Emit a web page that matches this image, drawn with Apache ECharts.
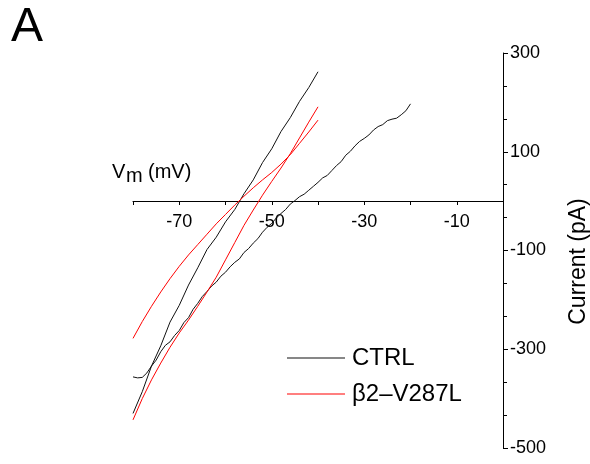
<!DOCTYPE html>
<html>
<head>
<meta charset="utf-8">
<title>I-V ramp</title>
<script src="https://cdn.jsdelivr.net/npm/echarts@6/dist/echarts.min.js"></script>
<style>
  html, body { margin: 0; padding: 0; background: #fff; }
  #chart { width: 590px; height: 464px; }
</style>
</head>
<body>
<div id="chart"></div>
<script>
// voltages (mV)
const vSteep = [-80, -78, -76, -74, -72, -70, -68, -66, -64, -62, -60, -58, -56, -54, -52, -50, -48, -46, -44, -42, -40]
const vLong = [-80, -79, -78, -77, -76, -75, -74, -73, -72, -71, -70, -69, -68, -67, -66, -65, -64, -63, -62, -61,
  -60, -59, -58, -57, -56, -55, -54, -53, -52, -51, -50, -49, -48, -47, -46, -45, -44, -43, -42, -41,
  -40, -39, -38, -37, -36, -35, -34, -33, -32, -31, -30, -29, -28, -27, -26, -25, -24, -23, -22, -21, -20]

// currents (pA)
const ctrlSteep = [-430, -386, -334, -293, -245, -211, -170, -135, -98, -73, -42, -17, 15, 43, 78, 106, 141, 169, 202, 230, 262]
const ctrlLong = [-356, -358, -357, -348, -334, -322, -305, -292, -285, -272, -262, -246, -236, -219, -207, -193, -183, -172, -164, -152,
  -144, -133, -124, -117, -104, -96, -85, -76, -63, -53, -45, -34, -25, -17, -6, 1, 9, 14, 22, 30,
  38, 47, 52, 62, 72, 80, 93, 101, 112, 121, 127, 134, 144, 151, 155, 163, 166, 168, 175, 183, 197]
const mutSteep = [-443, -400, -362, -328, -296, -267, -241, -213, -184, -154, -119, -84, -49, -18, 12, 40, 67, 96, 128, 160, 191]
const mutShallow = [-278, -244, -213, -184, -157, -132, -109, -88, -67, -46, -27, -8, 10, 27, 43, 58, 75, 94, 117, 140, 164]

const xLabels = [-70, -50, -30, -10]

const pair = (xs, ys) => xs.map((x, i) => [x, ys[i]])

const chart = echarts.init(document.getElementById('chart'))
const font = 'Liberation Sans, Arial, sans-serif'

const lineSeries = (name, color, data) => ({
  name: name,
  type: 'line',
  data: data,
  showSymbol: false,
  symbol: 'none',
  animation: false,
  lineStyle: { color: color, width: 1 },
  itemStyle: { color: color }
})

const option = {
  animation: false,
  grid: { left: 133, right: 87, top: 53, bottom: 16, containLabel: false, outerBoundsMode: 'none' },
  legend: {
    orient: 'vertical',
    left: 287,
    top: 346,
    padding: 0,
    icon: 'rect',
    itemWidth: 58,
    itemHeight: 1,
    itemGap: 12,
    data: ['CTRL', 'β2–V287L'],
    textStyle: { fontFamily: font, fontSize: 24, color: '#000', padding: [0, 0, 0, 2] }
  },
  xAxis: {
    type: 'value',
    min: -80,
    max: 0,
    interval: 10,
    // the x axis sits on I = 0: move it up from the bottom of the grid
    offset: -247,
    axisLine: { onZero: false, lineStyle: { color: '#000', width: 1 } },
    axisTick: { show: true, length: 4, lineStyle: { color: '#000' } },
    splitLine: { show: false },
    axisLabel: {
      margin: 12,
      fontFamily: font,
      fontSize: 18,
      color: '#000',
      formatter: v => (xLabels.indexOf(v) >= 0 ? String(v) : '')
    }
  },
  yAxis: {
    type: 'value',
    position: 'right',
    min: -500,
    max: 300,
    interval: 200,
    name: 'Current (pA)',
    nameLocation: 'middle',
    nameRotate: 90,
    nameGap: 64,
    nameTextStyle: { fontFamily: font, fontSize: 23, color: '#000', padding: [0, 22, 0, 0] },
    axisLine: { onZero: false, lineStyle: { color: '#000', width: 1 } },
    axisTick: { show: true, length: 5, lineStyle: { color: '#000' } },
    minorTick: { show: true, splitNumber: 3, length: 4, lineStyle: { color: '#000' } },
    splitLine: { show: false },
    axisLabel: { margin: 7, fontFamily: font, fontSize: 18, color: '#000' }
  },
  graphic: [
    { type: 'text', left: 11, top: 4, style: { text: 'A', fontFamily: font, fontSize: 48, fill: '#000' } },
    { type: 'text', left: 112, top: 162, style: { text: 'V', fontFamily: font, fontSize: 20, fill: '#000' } },
    { type: 'text', left: 126, top: 166, style: { text: 'm', fontFamily: font, fontSize: 20, fill: '#000' } },
    { type: 'text', left: 148, top: 162, style: { text: '(mV)', fontFamily: font, fontSize: 20, fill: '#000' } }
  ],
  series: [
    lineSeries('CTRL', '#111', pair(vSteep, ctrlSteep)),
    lineSeries('CTRL', '#111', pair(vLong, ctrlLong)),
    lineSeries('β2–V287L', '#ff0000', pair(vSteep, mutSteep)),
    lineSeries('β2–V287L', '#ff0000', pair(vSteep, mutShallow))
  ]
}

chart.setOption(option)
</script>
</body>
</html>
